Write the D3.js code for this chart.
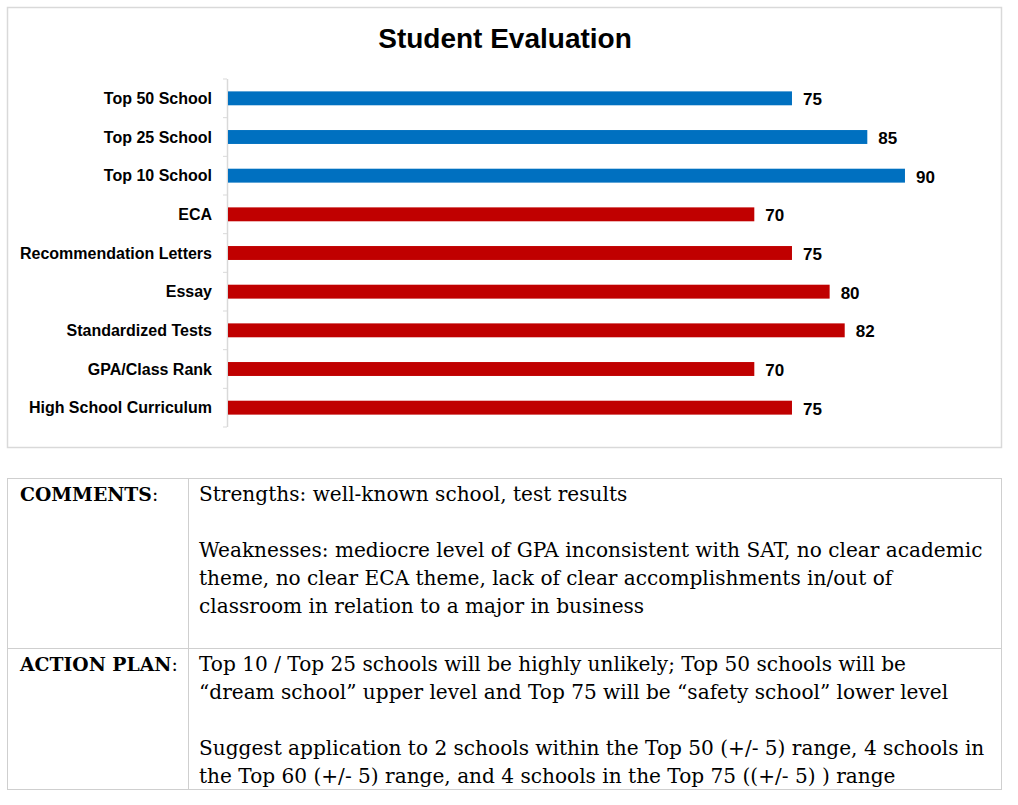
<!DOCTYPE html>
<html>
<head>
<meta charset="utf-8">
<script src="https://cdnjs.cloudflare.com/ajax/libs/d3/7.8.5/d3.min.js"></script>
<style>
  body { margin: 0; background: #fff; }
  svg { display: block; }
</style>
</head>
<body>
<div id="chart"></div>
<script>
// Student evaluation - horizontal bars plus comment table

const categories = [
    'Top 50 School', 'Top 25 School', 'Top 10 School', 'ECA',
    'Recommendation Letters', 'Essay', 'Standardized Tests',
    'GPA/Class Rank', 'High School Curriculum'
];
const scores = [75, 85, 90, 70, 75, 80, 82, 70, 75];
const groups = ['school', 'school', 'school', 'profile', 'profile', 'profile', 'profile', 'profile', 'profile'];

const commentLines = [
    'Strengths: well-known school, test results',
    '',
    'Weaknesses: mediocre level of GPA inconsistent with SAT, no clear academic',
    'theme, no clear ECA theme, lack of clear accomplishments in/out of',
    'classroom in relation to a major in business'
];
const planLines = [
    'Top 10 / Top 25 schools will be highly unlikely; Top 50 schools will be',
    '\u201cdream school\u201d upper level and Top 75 will be \u201csafety school\u201d lower level',
    '',
    'Suggest application to 2 schools within the Top 50 (+/- 5) range, 4 schools in',
    'the Top 60 (+/- 5) range, and 4 schools in the Top 75 ((+/- 5) ) range'
];

const W = 1018, H = 805;
const colors = { school: '#0070C0', profile: '#C00000' };
const gridColor = '#d9d9d9';
const sans = 'Arial, "Liberation Sans", sans-serif';

const svg = d3.select('#chart').append('svg')
    .attr('width', W)
    .attr('height', H);

// chart frame
svg.append('rect')
    .attr('x', 7.5).attr('y', 7.5)
    .attr('width', 994).attr('height', 440)
    .attr('fill', '#fff')
    .attr('stroke', gridColor)
    .attr('stroke-width', 1.5);

svg.append('text')
    .attr('x', 505)
    .attr('y', 48)
    .attr('text-anchor', 'middle')
    .style('font-family', sans)
    .style('font-weight', 'bold')
    .style('font-size', '28px')
    .text('Student Evaluation');

const x = d3.scaleLinear().domain([0, 100]).range([227, 980.3]);
const y = d3.scaleBand().domain(categories).range([79, 427]).paddingInner(0.64).paddingOuter(0.32);

// category axis with ticks at band boundaries
const step = y.step();
const axisG = svg.append('g');
axisG.append('line')
    .attr('x1', 227.5).attr('x2', 227.5)
    .attr('y1', 79).attr('y2', 427)
    .attr('stroke', gridColor)
    .attr('stroke-width', 1.5);
axisG.selectAll('.tick-mark')
    .data(d3.range(categories.length + 1))
    .enter().append('line')
    .attr('class', 'tick-mark')
    .attr('x1', 223).attr('x2', 227)
    .attr('y1', i => 79 + i * step)
    .attr('y2', i => 79 + i * step)
    .attr('stroke', gridColor)
    .attr('stroke-width', 1);

const rows = categories.map((c, i) => ({ name: c, value: scores[i], group: groups[i] }));

svg.selectAll('.bar')
    .data(rows)
    .enter().append('rect')
    .attr('class', 'bar')
    .attr('x', x(0) + 1)
    .attr('y', d => y(d.name))
    .attr('width', d => x(d.value) - x(0) - 1)
    .attr('height', y.bandwidth())
    .attr('fill', d => colors[d.group]);

svg.selectAll('.cat-label')
    .data(rows)
    .enter().append('text')
    .attr('class', 'cat-label')
    .attr('x', 212)
    .attr('y', d => y(d.name) + y.bandwidth() / 2 + 5.5)
    .attr('text-anchor', 'end')
    .style('font-family', sans)
    .style('font-weight', 'bold')
    .style('font-size', '16px')
    .text(d => d.name);

svg.selectAll('.val-label')
    .data(rows)
    .enter().append('text')
    .attr('class', 'val-label')
    .attr('x', d => x(d.value) + 11)
    .attr('y', d => y(d.name) + y.bandwidth() / 2 + 7)
    .style('font-family', sans)
    .style('font-weight', 'bold')
    .style('font-size', '17px')
    .text(d => d.value);

// comment table
const table = { left: 7.5, right: 1001.5, top: 478.5, mid: 648.5, bottom: 789.5, col: 188.5 };
const tg = svg.append('g');
tg.append('rect')
    .attr('x', table.left).attr('y', table.top)
    .attr('width', table.right - table.left)
    .attr('height', table.bottom - table.top)
    .attr('fill', 'none')
    .attr('stroke', '#cfcfcf');
tg.append('line')
    .attr('x1', table.left).attr('x2', table.right)
    .attr('y1', table.mid).attr('y2', table.mid)
    .attr('stroke', '#cfcfcf');
tg.append('line')
    .attr('x1', table.col).attr('x2', table.col)
    .attr('y1', table.top).attr('y2', table.bottom)
    .attr('stroke', '#cfcfcf');

const serif = '"DejaVu Serif", "Liberation Serif", serif';
const bodySize = 20.1;
const headSize = 18.8;
const lineH = 28;

function header(label, yPos) {
    const t = tg.append('text')
        .attr('x', 20).attr('y', yPos)
        .style('font-family', serif)
        .style('font-size', headSize + 'px');
    t.append('tspan').style('font-weight', 'bold').text(label);
    t.append('tspan').text(':');
}

function block(lines, yPos) {
    tg.append('text')
        .attr('x', 199).attr('y', yPos)
        .style('font-family', serif)
        .style('font-size', bodySize + 'px')
        .selectAll('tspan')
        .data(lines)
        .enter().append('tspan')
        .attr('x', 199)
        .attr('y', (d, i) => yPos + i * lineH)
        .text(d => d);
}

header('COMMENTS', 501);
block(commentLines, 501);
header('ACTION PLAN', 671);
block(planLines, 671);
</script>
</body>
</html>
